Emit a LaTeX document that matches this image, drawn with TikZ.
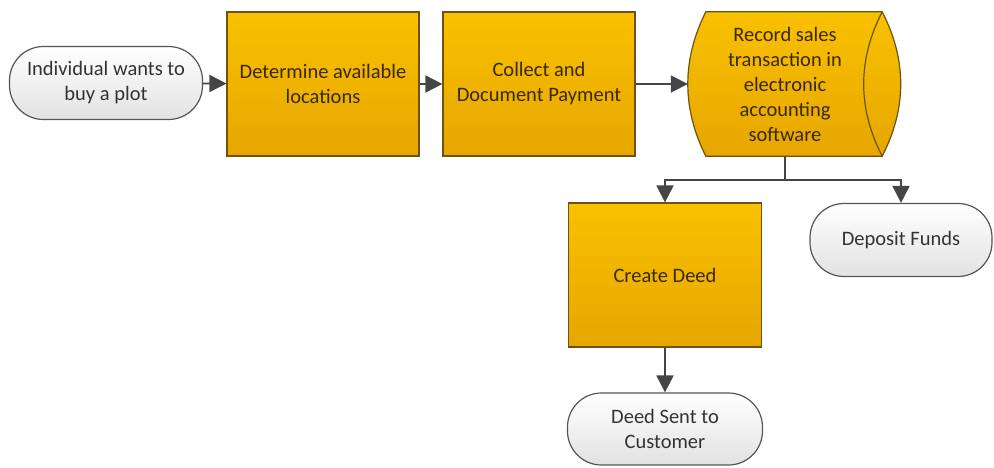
\documentclass[tikz,border=0pt]{standalone}
\usepackage{fontspec}
\setmainfont{Carlito}
\usetikzlibrary{arrows.meta,calc}

\definecolor{boxtop}{HTML}{F9C100}
\definecolor{boxbot}{HTML}{E6A600}
\definecolor{boxline}{HTML}{6E5212}
\definecolor{boxtext}{HTML}{3A2800}
\definecolor{termbot}{HTML}{E2E2E2}
\definecolor{termline}{HTML}{555555}
\definecolor{termtext}{HTML}{333333}
\definecolor{flow}{HTML}{454545}

\tikzset{
  txt/.style={font=\fontsize{20.5}{25}\selectfont, align=center, inner sep=0pt},
  process/.style={txt, draw=boxline, line width=1.2pt, top color=boxtop, bottom color=boxbot,
    text=boxtext, minimum width=192pt, minimum height=144pt},
  terminal/.style={txt, draw=termline, line width=1.2pt, top color=white, bottom color=termbot,
    text=termtext, rounded corners=34pt, minimum height=73pt},
  flowarrow/.style={draw=flow, line width=1.8pt, -{Triangle[length=17pt,width=17pt]}},
}

\begin{document}
\begin{tikzpicture}[x=1pt, y=-1pt]
\useasboundingbox (0,0) rectangle (994,467);

% start / end terminals
\node[terminal, minimum width=193pt] (start) at (106,83) {Individual wants to\\buy a plot};
\node[terminal, minimum width=182pt] (dep) at (901,240) {Deposit Funds};
\node[terminal, minimum width=195pt, minimum height=72pt] (sent) at (665,429) {Deed Sent to\\Customer};

% process steps
\node[process] (loc) at (323,84) {Determine available\\locations};
\node[process] (pay) at (539,84) {Collect and\\Document Payment};
\node[process, minimum width=193pt] (deed) at (665,275) {Create Deed};

% direct-access storage (horizontal cylinder): frame node, outline, then label
\node[inner sep=0pt, minimum width=194pt, minimum height=144pt] (rec) at (785,84) {};
\coordinate (tl) at ($(rec.north west)+(18,0)$);
\coordinate (bl) at ($(rec.south west)+(18,0)$);
\path[draw=boxline, line width=1.2pt, top color=boxtop, bottom color=boxbot]
  (tl) -- (rec.north east)
  .. controls ($(rec.north east)+(24.7,48)$) and ($(rec.south east)+(24.7,-48)$) .. (rec.south east)
  -- (bl)
  .. controls ($(bl)+(-24,-48)$) and ($(tl)+(-24,48)$) .. (tl) -- cycle;
\draw[boxline, line width=1.2pt] (rec.north east)
  .. controls ($(rec.north east)+(-24.7,48)$) and ($(rec.south east)+(-24.7,-48)$) .. (rec.south east);
\node[txt, text=boxtext] (rectext) at (rec.center)
  {Record sales\\transaction in\\electronic\\accounting\\software};

% connectors
\coordinate (split) at ($(rec.south)+(0,24)$);
\draw[flowarrow] (start) -- (loc);
\draw[flowarrow] (loc) -- (pay);
\draw[flowarrow] (pay) -- (rec.west);
\draw[flowarrow] (rec.south) -- (split) -| (deed.north);
\draw[flowarrow] (split) -| (dep.north);
\draw[flowarrow] (deed) -- (sent);
\end{tikzpicture}
\end{document}
